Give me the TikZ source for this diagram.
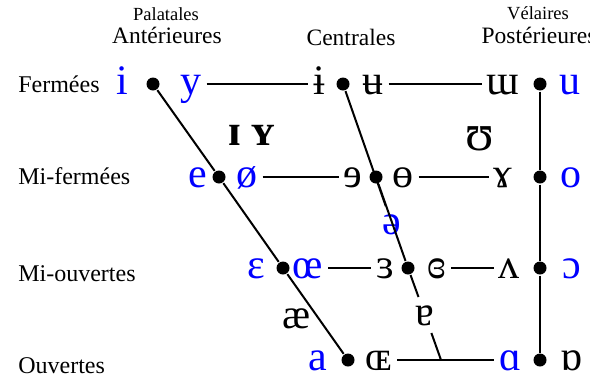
\documentclass[tikz,border=0pt]{standalone}
\usepackage{fontspec}
\setmainfont{Liberation Serif}
\usepackage{tikz}

\begin{document}
\begin{tikzpicture}[
    x=1pt, y=-1pt,
    line width=2pt,
    dot/.style={circle, fill, inner sep=0pt, minimum size=13pt},
    vowel/.style={inner xsep=4pt, inner ysep=0pt, text height=20pt, text depth=0pt, font=\fontsize{42}{42}\selectfont},
    french/.style={vowel, text=blue},
    online/.style={inner ysep=7pt},
    lax/.style={vowel, font=\fontsize{44}{44}\selectfont\bfseries},
    rowlabel/.style={anchor=base west, font=\fontsize{24}{24}\selectfont},
    colhead/.style={anchor=base, font=\fontsize{23.5}{24}\selectfont},
    subhead/.style={anchor=base, font=\fontsize{18.5}{19}\selectfont}
]
\useasboundingbox (0,0) rectangle (607,378);

% column and row headings
\node[subhead] (palatales) at (166,20) {Palatales};
\node[colhead] (anterieures) at (167,43) {Antérieures};
\node[colhead] (centrales) at (351,45) {Centrales};
\node[subhead] (velaires) at (538,19) {Vélaires};
\begin{scope}
  \clip (0,0) rectangle (589,378);
  \node[colhead] (posterieures) at (539,43) {Postérieures};
\end{scope}
\node[rowlabel] (fermees) at (14,92) {Fermées};
\node[rowlabel] (mifermees) at (14,184) {Mi-fermées};
\node[rowlabel] (miouvertes) at (14,281) {Mi-ouvertes};
\node[rowlabel] (ouvertes) at (14,373) {Ouvertes};

% dots
\node[dot] (f1) at (153,84) {};
\node[dot] (f2) at (219,177) {};
\node[dot] (f3) at (283,268) {};
\node[dot] (f4) at (348,360) {};
\node[dot] (c1) at (343,84) {};
\node[dot] (c2) at (376,177) {};
\node[dot] (c3) at (408,268) {};
\coordinate (c4) at (441,360);
\node[dot] (b1) at (540,84) {};
\node[dot] (b2) at (540,177) {};
\node[dot] (b3) at (540,268) {};
\node[dot] (b4) at (540,360) {};

% fermees
\node[french] (i) at (122,84) {i};
\node[french] (y) at (191,84) {y};
\node[vowel] (ibar) at (319,84) {ɨ};
\node[vowel] (ubar) at (373,84) {ʉ};
\node[vowel] (mturn) at (503,84) {ɯ};
\node[french] (u) at (570,84) {u};
\node[lax] (smalli) at (235,135) {ɪ};
\node[lax] (smally) at (263,135) {ʏ};
\node[vowel, font=\fontsize{52}{52}\selectfont] (upsilon) at (480,140) {ʊ};

% mi-fermees
\node[french] (e) at (198,177) {e};
\node[french] (oslash) at (247,177) {ø};
\node[vowel] (erev) at (353,177) {ɘ};
\node[vowel] (obar) at (403,177) {ɵ};
\node[vowel] (gamma) at (503,177) {ɤ};
\node[french] (o) at (571,177) {o};
\node[french, online] (schwa) at (392,224) {ə};

% mi-ouvertes
\node[french] (epsilon) at (256,268) {ɛ};
\node[french] (oe) at (308,268) {œ};
\node[vowel] (epsrev) at (385,268) {ɜ};
\node[vowel] (epsclosed) at (437,268) {ɞ};
\node[vowel] (vturn) at (509,268) {ʌ};
\node[french] (oopen) at (572,268) {ɔ};
\node[vowel] (ae) at (297,318) {æ};
\node[vowel, online] (aturn) at (425,315) {ɐ};

% ouvertes
\node[french] (a) at (318,360) {a};
\node[vowel] (OE) at (379,360) {ɶ};
\node[french] (alpha) at (510,360) {ɑ};
\node[vowel] (alphaturn) at (571,360) {ɒ};

% trapeze
\draw (f1) -- (f2) -- (f3) -- (f4);
\draw (c1) -- (schwa) -- (c2) -- (c3) -- (aturn) -- (c4);
\draw (b1) -- (b2) -- (b3) -- (b4);
\draw (y) -- (ibar);
\draw (ubar) -- (mturn);
\draw (oslash) -- (erev);
\draw (obar) -- (gamma);
\draw (oe) -- (epsrev);
\draw (epsclosed) -- (vturn);
\draw (OE) -- (alpha);
\end{tikzpicture}
\end{document}
